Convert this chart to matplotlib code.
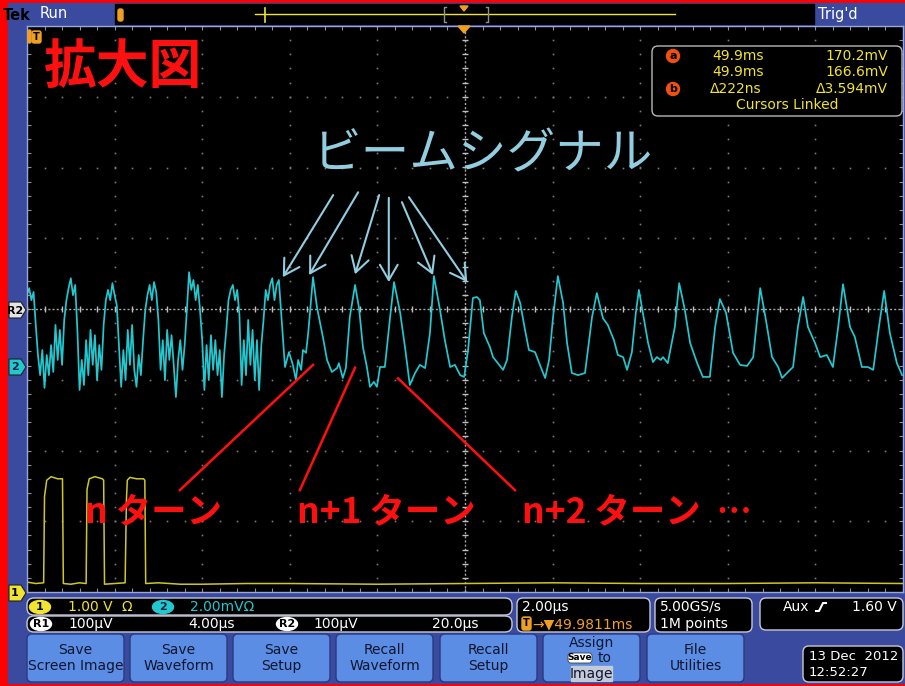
import numpy as np
import matplotlib.pyplot as plt
from matplotlib.patches import Rectangle, FancyBboxPatch, Polygon, Ellipse

plt.rcParams['font.family'] = ['DejaVu Sans', 'Noto Sans CJK JP']

# ---- data (time in us from trigger, 2 us/div) ----
# channel 2: beam signal, mV (2 mV/div)
ch2_pos = -0.82   # ground marker, divisions
t2_noise_start = -10.0
t2_noise_step = 0.05
v2_noise = [2.03, 2.23, 1.89, 2.12, 1.19, 0.34, -0.23, 0.48, -0.59, 0.34,
            -0.23, 0.62, -0.14, 1.19, 0.20, 1.05, 0.06, 1.33, 1.89, 2.23,
            2.51, 2.03, 2.32, 1.05, -0.65, 0.20, -0.51, 0.76, -0.23, 1.05,
            0.06, 0.90, -0.37, 0.62, -0.08, 1.19, 1.89, 2.18, 1.89, 2.37,
            2.03, 1.75, 0.62, -0.56, 0.48, -0.37, 1.05, 0.06, 1.19, -0.08,
            -0.56, 0.34, -0.23, 0.76, 1.61, 2.03, 2.32, 1.89, 2.40, 2.12,
            1.33, -0.08, 0.76, -0.37, 1.05, 0.20, 0.90, 0.06, -0.85, 0.20,
            0.76, -0.08, 0.62, 1.61, 2.68, 2.18, 2.46, 1.89, 2.32, 1.61,
            0.76, -0.65, 0.62, -0.37, 0.90, -0.08, 0.76, -0.23, 0.48, -0.85,
            0.34, 1.05, 1.89, 2.18, 2.32, 1.89, 2.18, 1.47, -0.51, 0.76,
            -0.23, 1.33, 0.06, 1.05, -0.37, 0.76, -0.65, 0.62, 1.33, 2.18,
            1.89, 2.32, 2.51, 1.89, 2.32, 2.46]
t2_turns = [-4.11, -4.02, -3.93, -3.86, -3.81, -3.74, -3.70, -3.63, -3.58, -3.47,
            -3.38, -3.24, -3.15, -3.04, -2.92, -2.88, -2.79, -2.72, -2.63, -2.51,
            -2.42, -2.33, -2.24, -2.17, -2.08, -2.01, -1.94, -1.83, -1.71, -1.62,
            -1.48, -1.37, -1.26, -1.14, -1.03, -0.91, -0.80, -0.71, -0.57, -0.46,
            -0.34, -0.23, -0.11, -0.02, 0.07, 0.18, 0.27, 0.34, 0.43, 0.57,
            0.64, 0.75, 0.87, 0.96, 1.07, 1.16, 1.26, 1.37, 1.46, 1.60,
            1.71, 1.83, 1.92, 2.01, 2.12, 2.24, 2.33, 2.44, 2.58, 2.74,
            2.90, 3.01, 3.15, 3.26, 3.40, 3.49, 3.61, 3.70, 3.81, 3.90,
            3.97, 4.06, 4.18, 4.29, 4.38, 4.47, 4.52, 4.63, 4.79, 4.89,
            5.02, 5.14, 5.30, 5.43, 5.59, 5.71, 5.82, 5.96, 6.12, 6.28,
            6.44, 6.58, 6.74, 6.87, 7.01, 7.15, 7.24, 7.35, 7.49, 7.60,
            7.72, 7.83, 7.99, 8.11, 8.26, 8.40, 8.52, 8.63, 8.79, 8.90,
            9.06, 9.20, 9.32, 9.45, 9.57, 9.70, 9.86, 9.98]
v2_turns = [0.00, 0.42, 0.06, -0.37, 0.20, -0.08, 0.48, 0.40, 0.96, 2.54,
            1.69, 0.82, 0.20, -0.14, -0.03, 0.11, -0.31, -0.03, 1.41, 2.32,
            1.67, 0.56, 0.00, -0.56, -0.42, -0.56, 0.00, 0.00, 1.41, 2.40,
            1.53, 0.56, -0.51, -0.17, 0.06, -0.03, 0.96, 2.57, 1.61, 0.76,
            0.00, 0.06, -0.23, -0.28, 0.48, 1.95, 1.98, 1.89, 0.96, 0.56,
            0.28, 0.11, -0.08, 0.20, 1.41, 2.15, 1.81, 1.05, 0.48, 0.42,
            0.06, -0.31, 0.20, 1.41, 2.57, 1.81, 0.68, -0.17, -0.23, -0.17,
            1.41, 2.09, 1.38, 1.19, 0.76, 0.34, 0.28, -0.08, 0.42, 1.53,
            2.18, 1.53, 0.68, 0.14, 0.28, 0.20, 0.28, 0.11, 1.13, 2.37,
            1.61, 0.68, 0.11, -0.28, -0.28, 1.13, 1.92, 1.53, 0.40, 0.06,
            0.03, 0.28, 2.23, 1.33, 0.28, 0.00, -0.31, -0.17, 0.00, 1.13,
            1.98, 1.13, 0.68, 0.28, 0.34, 0.00, 1.13, 2.34, 1.13, 0.85,
            0.00, 0.00, -0.08, 1.13, 2.15, 0.96, 0.11, -0.23]

# channel 1: gate pulses, V (1 V/div)
ch1_pos = -4.0
t1_us = [-10.0, -9.8, -9.62, -9.60, -9.55, -9.45, -9.30, -9.19, -9.17,
         -9.0, -8.8, -8.65, -8.63, -8.58, -8.45, -8.28, -8.25, -8.23,
         -8.0, -7.76, -7.73, -7.71, -7.65, -7.50, -7.34, -7.31, -7.29,
         -7.0, -6.5, -6.0, -5.0, -4.0, -2.0, 0.0, 2.0, 4.0, 6.0, 8.0, 10.0]
v1_V = [0.14, 0.12, 0.13, 1.35, 1.58, 1.63, 1.60, 1.60, 0.12,
        0.11, 0.13, 0.12, 1.45, 1.60, 1.63, 1.60, 1.58, 0.11,
        0.12, 0.13, 1.30, 1.58, 1.62, 1.60, 1.60, 1.58, 0.12,
        0.13, 0.11, 0.11, 0.12, 0.12, 0.11, 0.12, 0.13, 0.12, 0.12, 0.13, 0.12]

# annotation targets (beam peaks / turn troughs)
arrow_tips = [(-4.16, 0.45), (-3.56, 0.48), (-2.51, 0.49), (-1.74, 0.38), (-0.73, 0.48), (0.05, 0.38)]
arrow_tails = [(-3.01, 1.61), (-2.44, 1.65), (-1.96, 1.61), (-1.74, 1.57), (-1.44, 1.51), (-1.28, 1.58)]
turn_labels = ['n ターン', 'n+1 ターン', 'n+2 ターン  …']
turn_label_x = [-8.68, -3.84, 1.30]
turn_line_from = [(-6.51, -2.56), (-3.77, -2.56), (1.14, -2.56)]
turn_line_to = [(-3.47, -0.79), (-2.51, -0.83), (-1.53, -0.98)]

cursor_rows = [('49.9ms', '170.2mV'), ('49.9ms', '166.6mV'), ('Δ222ns', 'Δ3.594mV')]
buttons = ['Save\nScreen Image', 'Save\nWaveform', 'Save\nSetup', 'Recall\nWaveform',
           'Recall\nSetup', '', 'File\nUtilities']

# ---- colours ----
BLUE = '#3a4a9e'
YEL = '#f0e430'
CYAN = '#22c8d0'
ORANGE = '#f0a020'
BTN = '#5a8de3'
RED = '#ff1010'
LBLUE = '#92cde0'

W, H = 905, 686
fig = plt.figure(figsize=(W / 100, H / 100), dpi=100, facecolor='#ff0000')

back = fig.add_axes([0, 0, 1, 1], zorder=0)
back.set_xlim(0, W)
back.set_ylim(H, 0)
back.axis('off')
back.add_patch(Rectangle((8, 3), W - 8, 680, color=BLUE))

# record view bar
back.add_patch(Rectangle((115, 4), 699, 20, color='black'))
back.plot([255, 675], [14, 14], color=YEL, lw=1)
back.plot([265, 265], [8, 22], color=YEL, lw=1.2)
back.plot([446, 444, 444, 446], [7, 7, 22, 22], color='#909090', lw=1)
back.plot([486, 488, 488, 486], [7, 7, 22, 22], color='#909090', lw=1)
back.add_patch(Polygon([(460, 6), (468, 6), (464, 11)], color=ORANGE))
back.add_patch(FancyBboxPatch((118, 9), 5, 12, boxstyle='round,pad=0,rounding_size=2', color=ORANGE))
back.text(3, 15, 'Tek', color='black', fontsize=10.5, fontweight='bold', va='center')
back.text(40, 14, 'Run', color='white', fontsize=10.5, va='center')
back.text(818, 14, "Trig'd", color='white', fontsize=10.5, va='center')

# ---- scope screen ----
ax = fig.add_axes([27 / W, (H - 592) / H, 876 / W, 566 / H], zorder=1)
ax.set_facecolor('black')
ax.set_xlim(-10, 10)
ax.set_ylim(-4, 4)
for s in ax.spines.values():
    s.set_color('#9aa6dc')
    s.set_linewidth(1)
ax.set_xticks(np.arange(-10, 10.01, 0.4))
ax.set_yticks(np.arange(-4, 4.01, 0.2))
ax.tick_params(direction='in', length=3, color='#909090', top=True, right=True,
               labelbottom=False, labelleft=False)

# dotted graticule
gy = np.arange(-4, 4.01, 0.2)
gx = np.arange(-10, 10.01, 0.4)
for xv in range(-8, 10, 2):
    if xv != 0:
        ax.plot(np.full_like(gy, xv), gy, ls='none', marker='s', ms=1.2, color='#7a7a7a', mew=0)
for yv in range(-3, 4):
    if yv != 0:
        ax.plot(gx, np.full_like(gx, yv), ls='none', marker='s', ms=1.2, color='#7a7a7a', mew=0)
ax.axhline(0, color='#a8a8a8', lw=1, ls=(0, (1.5, 1.5)))
ax.axvline(0, color='#a8a8a8', lw=1, ls=(0, (1.5, 1.5)))
ax.plot(gx, np.zeros_like(gx), ls='none', marker='|', ms=5, color='#c0c0c0', mew=1)
ax.plot(np.zeros_like(gy), gy, ls='none', marker='_', ms=5, color='#c0c0c0', mew=1)

# traces
t2 = np.concatenate([t2_noise_start + t2_noise_step * np.arange(len(v2_noise)), t2_turns])
v2 = np.concatenate([v2_noise, v2_turns])
ax.plot(t2, ch2_pos + v2 / 2.0, color=CYAN, lw=1.25)
ax.plot(t1_us, ch1_pos + np.array(v1_V) / 1.0, color='#cfc62a', lw=1.1)

# annotations
ax.text(-9.62, 3.42, '拡大図', color=RED, fontsize=38, fontweight='bold',
        family=['Noto Sans CJK JP'], va='center', ha='left')
ax.text(-3.48, 2.18, 'ビームシグナル', color=LBLUE, fontsize=35,
        family=['Noto Sans CJK JP'], va='center', ha='left')
for tip, tail in zip(arrow_tips, arrow_tails):
    ax.annotate('', xy=tip, xytext=tail,
                arrowprops=dict(arrowstyle='->,head_length=0.55,head_width=0.32',
                                color=LBLUE, lw=1.5, mutation_scale=20,
                                shrinkA=0, shrinkB=0))
for p0, p1 in zip(turn_line_from, turn_line_to):
    ax.plot([p0[0], p1[0]], [p0[1], p1[1]], color=RED, lw=1.8)
for lab, xl in zip(turn_labels, turn_label_x):
    ax.text(xl, -2.87, lab, color=RED, fontsize=25.5, fontweight='bold',
            family=['Noto Sans CJK JP'], va='center', ha='left')

# ---- front overlay ----
front = fig.add_axes([0, 0, 1, 1], zorder=2)
front.set_xlim(0, W)
front.set_ylim(H, 0)
front.axis('off')
front.patch.set_alpha(0)

# trigger markers
front.add_patch(Polygon([(458, 26), (470, 26), (464, 33)], color=ORANGE))
front.add_patch(FancyBboxPatch((28, 30), 3, 13, boxstyle='round,pad=0,rounding_size=1.5', color=ORANGE))
front.add_patch(FancyBboxPatch((32, 31), 9, 12, boxstyle='round,pad=0,rounding_size=2', color=ORANGE))
front.text(36.5, 37.5, 'T', color='black', fontsize=7, fontweight='bold', ha='center', va='center')

# left channel markers
def tab(y, face, label, tcol='black'):
    front.add_patch(Polygon([(9, y - 8), (21, y - 8), (26, y), (21, y + 8), (9, y + 8)],
                            facecolor=face, edgecolor='#202020', lw=0.8))
    front.text(15, y + 0.5, label, color=tcol, fontsize=8, fontweight='bold', ha='center', va='center')

tab(310, '#e4e4e4', 'R2')
tab(367, CYAN, '2', '#102040')
tab(593, YEL, '1')

# cursor readout
front.add_patch(FancyBboxPatch((652, 46), 250, 70, boxstyle='round,pad=0,rounding_size=6',
                               facecolor='black', edgecolor='#b8b8b8', lw=1))
for (left, right), yy in zip(cursor_rows, [56, 72, 89]):
    front.text(712 if left[0] != 'Δ' else 710, yy, left, color=YEL, fontsize=10, va='center')
    front.text(888, yy, right, color=YEL, fontsize=10, va='center', ha='right')
for yy, ch in [(56, 'a'), (89, 'b')]:
    front.add_patch(Ellipse((673, yy), 13, 13, color='#f05010'))
    front.text(673, yy, ch, color='black', fontsize=8, fontweight='bold', ha='center', va='center')
front.text(787, 105, 'Cursors Linked', color=YEL, fontsize=10, ha='center', va='center')

# ---- bottom readouts ----
def box(x, y, w, h, r=6):
    front.add_patch(FancyBboxPatch((x, y), w, h, boxstyle=f'round,pad=0,rounding_size={r}',
                                   facecolor='black', edgecolor='#c8c8d8', lw=1))

box(27, 598, 485, 17, 7)
box(27, 616, 485, 16, 7)
box(517, 598, 133, 34)
box(655, 598, 97, 34)
box(760, 598, 143, 32)
box(803, 646, 100, 36)

def badge(x, y, face, label, tcol='black'):
    front.add_patch(Ellipse((x, y), 21, 13, color=face))
    front.text(x, y, label, color=tcol, fontsize=8, fontweight='bold', ha='center', va='center')

badge(40, 607, YEL, '1')
front.text(68, 607, '1.00 V', color=YEL, fontsize=10, va='center')
front.text(121, 607, 'Ω', color=YEL, fontsize=10, va='center')
badge(163, 607, CYAN, '2', '#102040')
front.text(190, 607, '2.00mVΩ', color=CYAN, fontsize=10, va='center')
badge(41, 624, 'white', 'R1')
front.text(68, 624, '100µV', color='white', fontsize=10, va='center')
front.text(188, 624, '4.00µs', color='white', fontsize=10, va='center')
badge(287, 624, 'white', 'R2')
front.text(313, 624, '100µV', color='white', fontsize=10, va='center')
front.text(432, 624, '20.0µs', color='white', fontsize=10, va='center')

front.text(522, 607, '2.00µs', color='white', fontsize=10, va='center')
front.add_patch(FancyBboxPatch((522, 617), 9, 13, boxstyle='round,pad=0,rounding_size=2', color=ORANGE))
front.text(526.5, 623.5, 'T', color='black', fontsize=7, fontweight='bold', ha='center', va='center')
front.text(532, 624, '→▼49.9811ms', color=ORANGE, fontsize=10, va='center')
front.text(660, 607, '5.00GS/s', color='white', fontsize=10, va='center')
front.text(660, 624, '1M points', color='white', fontsize=10, va='center')
front.text(783, 607, 'Aux', color='white', fontsize=10, va='center')
front.plot([816, 819, 823, 826], [611, 611, 603, 603], color='white', lw=1.5)
front.text(897, 607, '1.60 V', color='white', fontsize=10, va='center', ha='right')
front.text(809, 657, '13 Dec  2012', color='white', fontsize=9.5, va='center')
front.text(809, 673, '12:52:27', color='white', fontsize=9.5, va='center')

# soft buttons
bx = [27, 130, 233, 336, 440, 543, 647]
for x0, lab in zip(bx, buttons):
    front.add_patch(FancyBboxPatch((x0, 634), 97, 48, boxstyle='round,pad=0,rounding_size=5',
                                   facecolor=BTN, edgecolor='#2a3a80', lw=1))
    if lab:
        front.text(x0 + 48.5, 658, lab, color='#101530', fontsize=10, ha='center', va='center',
                   linespacing=1.1)
front.text(591.5, 643, 'Assign', color='#101530', fontsize=10, ha='center', va='center')
front.add_patch(FancyBboxPatch((568, 653), 24, 10, boxstyle='round,pad=0,rounding_size=3',
                               facecolor='white', edgecolor='#404040', lw=0.6))
front.text(580, 658, 'Save', color='black', fontsize=6.5, fontweight='bold', ha='center', va='center')
front.text(598, 658, 'to', color='#101530', fontsize=10, va='center')
front.add_patch(Rectangle((571, 666), 41, 15, color='#c4cad8'))
front.text(591.5, 674, 'Image', color='#101530', fontsize=10, ha='center', va='center')

fig.savefig('out.png', dpi=100, facecolor=fig.get_facecolor())
